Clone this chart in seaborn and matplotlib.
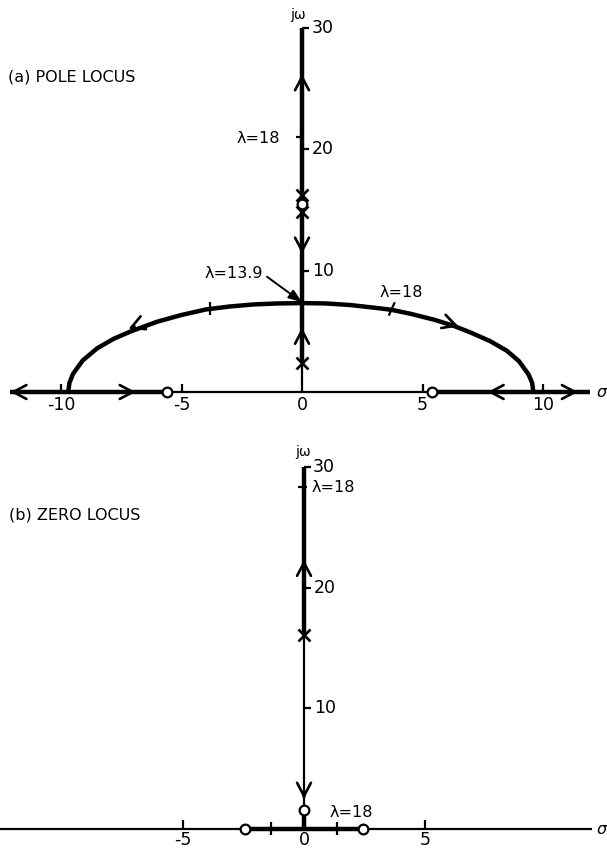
import matplotlib
matplotlib.use("Agg")
import matplotlib.pyplot as plt
import seaborn as sns
import pandas as pd

sns.set_theme(style="white")
plt.rcParams["font.family"] = ["DejaVu Sans"]
plt.rcParams["text.color"] = "black"

# ---------------- (a) pole locus ----------------
arc_sigma = [-9.7, -9.65, -9.5, -9.1, -8.5, -7.8, -7.1, -6.0, -5.0, -4.0, -3.0, -2.0, -1.0, 0.0,
             1.0, 2.0, 3.0, 3.7, 4.5, 5.5, 6.3, 7.0, 7.8, 8.5, 9.0, 9.4, 9.55, 9.6]
arc_omega = [0.0, 0.75, 1.5, 2.6, 3.6, 4.4, 5.0, 5.8, 6.35, 6.8, 7.05, 7.22, 7.3, 7.33,
             7.3, 7.17, 6.95, 6.78, 6.45, 5.95, 5.45, 4.9, 4.2, 3.4, 2.55, 1.45, 0.75, 0.0]
a_real_left = [-12.1, -5.6]      # thick real-axis branch, left
a_real_right = [5.4, 11.95]      # thick real-axis branch, right
a_jw_thin = [0.0, 2.4]
a_jw_thick = [2.4, 30.0]
a_poles_jw = [2.4, 14.8, 16.2]
a_zeros_jw = [15.5]
a_zeros_real = [-5.6, 5.4]
a_xticks = [-10, -5, 0, 5, 10]
a_xtick_labels = ["-10", "-5", "0", "5", "10"]
a_yticks = [10, 20, 30]
a_lam18_jw = 21.0
a_lam18_arc = [(-3.8, 6.35, -3.8, 7.45), (3.6, 6.3, 3.85, 7.4)]
# arrow tip (sigma, omega) and direction of travel
a_arrows = [(-12.1, 0.0, -1, 0), (-6.9, 0.0, 1, 0), (7.7, 0.0, -1, 0), (11.45, 0.0, 1, 0),
            (0.0, 26.2, 0, 1), (0.0, 11.4, 0, -1), (0.0, 5.3, 0, 1),
            (-7.2, 5.2, -1, -0.83), (6.5, 5.4, 1, -0.66)]

# ---------------- (b) zero locus ----------------
b_real_thick = [-2.45, 2.45]
b_zeros_real = [-2.45, 2.45]
b_jw_thick_top = [16.1, 30.0]
b_jw_thin = [1.6, 16.1]
b_jw_stub = [0.0, 1.3]
b_poles_jw = [16.1]
b_zeros_jw = [1.6]
b_xticks = [-5, 0, 5]
b_xtick_labels = ["-5", "0", "5"]
b_yticks = [10, 20, 30]
b_lam18_real = [-1.35, 1.35]
b_lam18_jw = 28.3
b_arrows = [(0.0, 22.3, 0, 1), (0.0, 2.5, 0, -1)]

THICK = 3.2
THIN = 1.6
FS = 12.5

fig = plt.figure(figsize=(6.07, 8.49), dpi=100)
ax_a = fig.add_axes([0, 1 - 430 / 849, 1, 430 / 849])
ax_b = fig.add_axes([0, 0, 1, 419 / 849])
ax_a.set_xlim(-302 / 24.1, (607 - 302) / 24.1)
ax_a.set_ylim((392 - 430) / 12.13, 392 / 12.13)
ax_b.set_xlim(-304 / 24.2, (607 - 304) / 24.2)
ax_b.set_ylim((829 - 849) / 12.07, (829 - 430) / 12.07)
for ax in (ax_a, ax_b):
    ax.axis("off")


def seg(ax, xs, ys, lw):
    df = pd.DataFrame({"x": xs, "y": ys})
    sns.lineplot(data=df, x="x", y="y", ax=ax, color="black", lw=lw, sort=False,
                 estimator=None, legend=False, solid_capstyle="butt",
                 solid_joinstyle="round")


def chevron(ax, s, w, ds, dw):
    back = 0.25
    ax.annotate("", xy=(s, w), xytext=(s - back * ds, w - back * dw),
                arrowprops=dict(arrowstyle="->,head_length=0.95,head_width=0.5",
                                lw=1.9, color="black", shrinkA=0, shrinkB=0,
                                mutation_scale=10))


def poles(ax, xs, ys):
    ax.plot(xs, ys, "x", color="black", ms=9, mew=1.9, zorder=5)


def zeros(ax, xs, ys):
    ax.plot(xs, ys, "o", mfc="white", mec="black", ms=7, mew=1.6, zorder=6)


# ---- panel (a) ----
ax = ax_a
seg(ax, [-12.1, 11.95], [0, 0], THIN)
seg(ax, a_real_left, [0, 0], THICK)
seg(ax, a_real_right, [0, 0], THICK)
seg(ax, [0, 0], a_jw_thin, THIN)
seg(ax, [0, 0], a_jw_thick, THICK)
seg(ax, arc_sigma, arc_omega, THICK)
for t, lab in zip(a_xticks, a_xtick_labels):
    if t != 0:
        seg(ax, [t, t], [0, 0.7], THIN)
    ax.text(t, -1.1, lab, ha="center", va="center", fontsize=FS)
for t in a_yticks:
    seg(ax, [0, 0.3], [t, t], THIN)
    ax.text(0.42, t, str(t), ha="left", va="center", fontsize=FS)
seg(ax, [-0.25, 0.08], [a_lam18_jw, a_lam18_jw], THIN)
for x0, y0, x1, y1 in a_lam18_arc:
    seg(ax, [x0, x1], [y0, y1], THIN)
for s, w, ds, dw in a_arrows:
    chevron(ax, s, w, ds, dw)
poles(ax, [0] * len(a_poles_jw), a_poles_jw)
zeros(ax, [0] * len(a_zeros_jw), a_zeros_jw)
zeros(ax, a_zeros_real, [0] * len(a_zeros_real))
ax.text(-0.15, 31.1, "jω", ha="center", va="center", fontsize=10)
ax.text(12.2, 0, "σ", ha="left", va="center", fontsize=FS - 1, style="italic")
ax.text(-12.2, 26.0, "(a) POLE LOCUS", ha="left", va="center", fontsize=FS - 1)
ax.text(-0.9, 20.9, "λ=18", ha="right", va="center", fontsize=FS - 1)
ax.text(3.2, 8.2, "λ=18", ha="left", va="center", fontsize=FS - 1)
ax.text(-1.62, 9.8, "λ=13.9", ha="right", va="center", fontsize=FS - 1)
ax.annotate("", xy=(0, 7.4), xytext=(-1.45, 9.5),
            arrowprops=dict(arrowstyle="-|>,head_length=0.8,head_width=0.3",
                            lw=1.4, color="black", shrinkA=0, shrinkB=0,
                            mutation_scale=10))

# ---- panel (b) ----
ax = ax_b
seg(ax, [-12.6, 11.9], [0, 0], THIN)
seg(ax, b_real_thick, [0, 0], THICK)
seg(ax, [0, 0], b_jw_thin, THIN)
seg(ax, [0, 0], b_jw_thick_top, THICK)
seg(ax, [0, 0], b_jw_stub, THICK)
for t, lab in zip(b_xticks, b_xtick_labels):
    if t != 0:
        seg(ax, [t, t], [0, 0.75], THIN)
    ax.text(t, -0.95, lab, ha="center", va="center", fontsize=FS)
for t in b_yticks:
    seg(ax, [0, 0.3], [t, t], THIN)
    ax.text(0.42 if t != 30 else 0.37, t, str(t), ha="left", va="center", fontsize=FS)
for t in b_lam18_real:
    seg(ax, [t, t], [-0.5, 0.6], THIN)
seg(ax, [-0.25, 0.12], [b_lam18_jw, b_lam18_jw], THIN)
for s, w, ds, dw in b_arrows:
    chevron(ax, s, w, ds, dw)
poles(ax, [0] * len(b_poles_jw), b_poles_jw)
zeros(ax, [0] * len(b_zeros_jw), b_zeros_jw)
zeros(ax, b_zeros_real, [0] * len(b_zeros_real))
ax.text(-0.05, 31.2, "jω", ha="center", va="center", fontsize=10)
ax.text(12.1, 0, "σ", ha="left", va="center", fontsize=FS - 1, style="italic")
ax.text(-12.2, 26.0, "(b) ZERO LOCUS", ha="left", va="center", fontsize=FS - 1)
ax.text(0.33, b_lam18_jw, "λ=18", ha="left", va="center", fontsize=FS - 1)
ax.text(1.07, 1.35, "λ=18", ha="left", va="center", fontsize=FS - 1)

fig.savefig("out.png", dpi=100)
